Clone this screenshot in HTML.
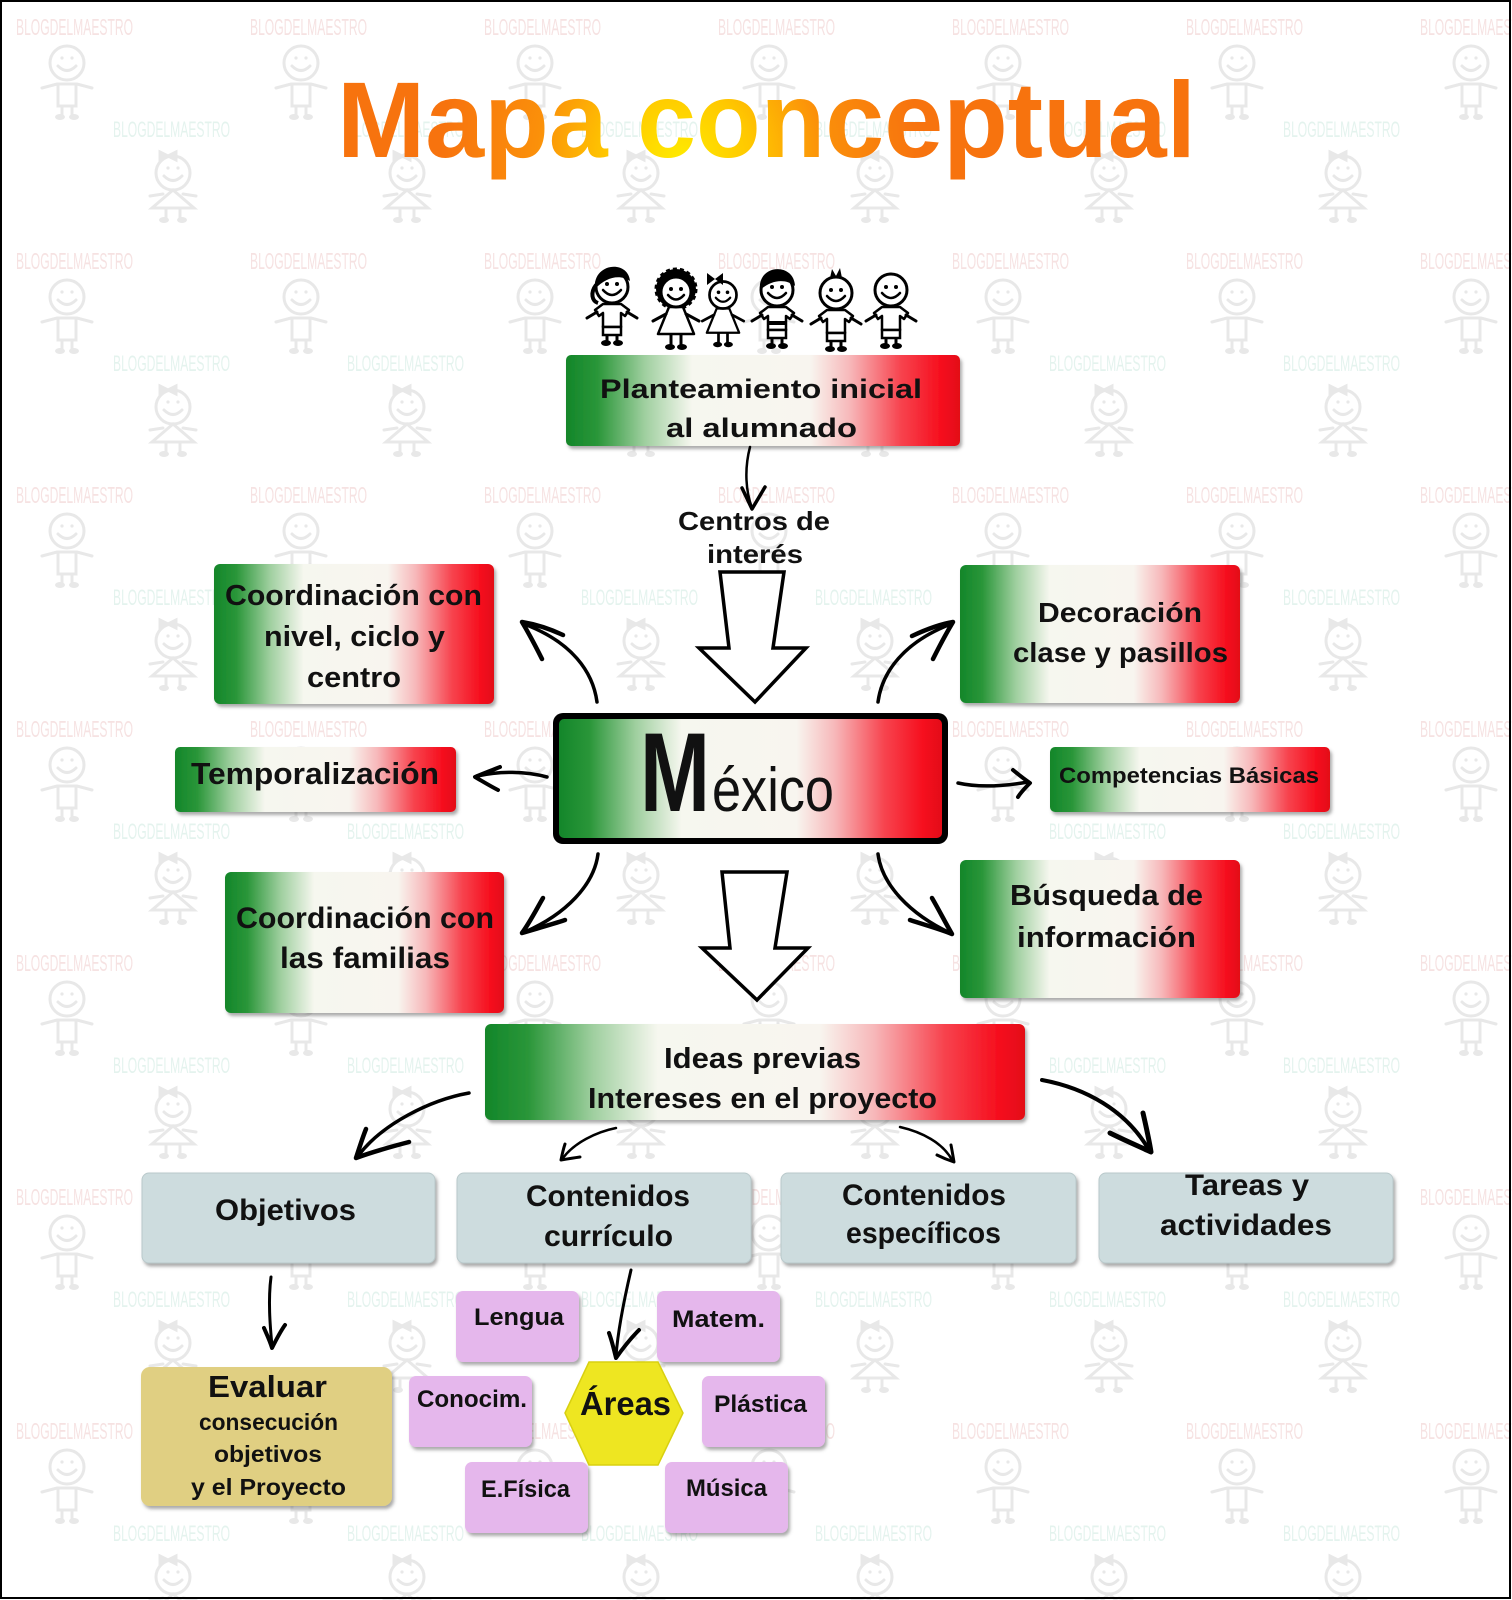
<!DOCTYPE html>
<html>
<head>
<meta charset="utf-8">
<style>
html,body{margin:0;padding:0;background:#fff;}
svg{display:block;}
.t{font-family:"Liberation Sans",sans-serif;font-weight:bold;fill:#111;}
.wm{font-family:"Liberation Sans",sans-serif;font-weight:normal;}
</style>
</head>
<body>
<svg width="1512" height="1600" viewBox="0 0 1512 1600" xmlns="http://www.w3.org/2000/svg">
<defs>
  <linearGradient id="mx" x1="0" x2="1" y1="0" y2="0">
    <stop offset="0" stop-color="#13862a"/>
    <stop offset="0.08" stop-color="#2a9639"/>
    <stop offset="0.2" stop-color="#9fcf9f"/>
    <stop offset="0.32" stop-color="#f6f7ef"/>
    <stop offset="0.62" stop-color="#f8f5ef"/>
    <stop offset="0.72" stop-color="#f7b8ba"/>
    <stop offset="0.85" stop-color="#f7434e"/>
    <stop offset="0.95" stop-color="#f60f1e"/>
    <stop offset="1" stop-color="#e30c18"/>
  </linearGradient>
  <radialGradient id="tg" gradientUnits="userSpaceOnUse" cx="680" cy="160" r="240">
    <stop offset="0" stop-color="#ffea00"/>
    <stop offset="0.3" stop-color="#ffc800"/>
    <stop offset="0.6" stop-color="#fb900a"/>
    <stop offset="1" stop-color="#f7730e"/>
  </radialGradient>
  <filter id="sh" x="-10%" y="-10%" width="130%" height="140%">
    <feDropShadow dx="2" dy="3" stdDeviation="1.5" flood-color="#555" flood-opacity="0.5"/>
  </filter>
  <pattern id="wmp" x="0" y="0" width="234" height="234" patternUnits="userSpaceOnUse">
    <text class="wm" x="16" y="35" font-size="23" textLength="117" lengthAdjust="spacingAndGlyphs" fill="#f6e2e2">BLOGDELMAESTRO</text>
    <text class="wm" x="113" y="137" font-size="22" textLength="117" lengthAdjust="spacingAndGlyphs" fill="#e4f3ee">BLOGDELMAESTRO</text>
    <g stroke="#e8e8e8" stroke-width="3" fill="none" stroke-linecap="round">
      <circle cx="67" cy="63" r="17"/>
      <path d="M58,66 Q67,75 76,66"/>
      <path d="M42,88 L57,84 L77,84 L92,88"/>
      <path d="M58,84 L58,106 L76,106 L76,84"/>
      <path d="M62,106 L62,115 M72,106 L72,115"/>
      <circle cx="173" cy="173" r="17"/>
      <path d="M164,176 Q173,185 182,176"/>
      <path d="M173,190 L152,208 L194,208 Z"/>
      <path d="M150,196 L163,194 M183,194 L196,196"/>
      <path d="M166,208 L166,218 M180,208 L180,218"/>
      <path d="M160,152 L168,156 L160,160 Z M176,152 L168,156 L176,160 Z" fill="#e8e8e8"/>
    </g>
    <g fill="#e8e8e8">
      <circle cx="62" cy="58" r="1.6"/><circle cx="72" cy="58" r="1.6"/>
      <circle cx="168" cy="168" r="1.6"/><circle cx="178" cy="168" r="1.6"/>
      <ellipse cx="60" cy="117" rx="5" ry="3"/><ellipse cx="74" cy="117" rx="5" ry="3"/>
      <ellipse cx="164" cy="220" rx="5" ry="3"/><ellipse cx="182" cy="220" rx="5" ry="3"/>
    </g>
  </pattern>

  <g id="boy">
    <path d="M-9,17 L-17,23 L-13,29 L-9,26 L-9,40 L9,40 L9,26 L13,29 L17,23 L9,17 Z" fill="#fff" stroke="#000" stroke-width="2.5" stroke-linejoin="round"/>
    <path d="M-15,25 L-25,31 M15,25 L25,31" stroke="#000" stroke-width="3" stroke-linecap="round"/>
    <rect x="-9" y="40" width="18" height="8" fill="#fff" stroke="#000" stroke-width="2.5"/>
    <path d="M-5,48 L-5,54 M5,48 L5,54" stroke="#000" stroke-width="3"/>
    <ellipse cx="-6" cy="56" rx="5" ry="3" fill="#000"/>
    <ellipse cx="6" cy="56" rx="5" ry="3" fill="#000"/>
    <circle r="16" fill="#fff" stroke="#000" stroke-width="3"/>
    <circle cx="-5" cy="-3" r="2" fill="#000"/><circle cx="5" cy="-3" r="2" fill="#000"/>
    <path d="M-9,3 Q0,13 9,3" fill="none" stroke="#000" stroke-width="2.5" stroke-linecap="round"/>
  </g>
  <g id="girl">
    <path d="M-7,15 L-18,42 L18,42 L7,15 Z" fill="#fff" stroke="#000" stroke-width="2.5" stroke-linejoin="round"/>
    <path d="M-10,22 L-23,29 M10,22 L23,29" stroke="#000" stroke-width="3" stroke-linecap="round"/>
    <path d="M-5,42 L-5,53 M5,42 L5,53" stroke="#000" stroke-width="3"/>
    <ellipse cx="-6" cy="55" rx="5" ry="3" fill="#000"/>
    <ellipse cx="6" cy="55" rx="5" ry="3" fill="#000"/>
    <circle r="15" fill="#fff" stroke="#000" stroke-width="3"/>
    <circle cx="-5" cy="-3" r="2" fill="#000"/><circle cx="5" cy="-3" r="2" fill="#000"/>
    <path d="M-8,3 Q0,12 8,3" fill="none" stroke="#000" stroke-width="2.5" stroke-linecap="round"/>
  </g>
</defs>

<rect x="0" y="0" width="1512" height="1600" fill="#fff"/>
<rect x="0" y="0" width="1512" height="1600" fill="url(#wmp)"/>

<text class="t" x="337" y="157" font-size="108" textLength="859" lengthAdjust="spacingAndGlyphs" style="fill:url(#tg)">Mapa conceptual</text>

<g>
  <g transform="translate(612,287)">
    <use href="#boy"/>
    <path d="M-17,2 C-20,-24 16,-28 18,-6 C8,-13 -6,-10 -17,2 Z" fill="#000"/>
    <path d="M-16,-2 C-22,6 -20,14 -14,16" fill="none" stroke="#000" stroke-width="4"/>
  </g>
  <g transform="translate(676,292)">
    <circle cx="0" cy="-3" r="20" fill="#000" stroke="#000" stroke-width="3" stroke-dasharray="4 3"/>
    <use href="#girl"/>
  </g>
  <g transform="translate(723,295)">
    <use href="#girl" transform="scale(0.9)"/>
    <path d="M-16,-22 L-8,-16 L-16,-10 Z M0,-22 L-8,-16 L0,-10 Z" fill="#000"/>
  </g>
  <g transform="translate(777,290)">
    <use href="#boy"/>
    <path d="M-17,0 C-20,-26 17,-28 18,-4 C8,-12 -6,-10 -17,0 Z" fill="#000"/>
    <path d="M-9,33 L9,33" stroke="#000" stroke-width="4"/>
  </g>
  <g transform="translate(836,293)">
    <use href="#boy"/>
    <path d="M-6,-15 L-4,-24 L0,-17 L4,-25 L6,-15 Z" fill="#000"/>
  </g>
  <g transform="translate(891,290)">
    <use href="#boy"/>
  </g>
</g>

<g filter="url(#sh)">
  <rect x="566" y="355" width="394" height="91" rx="5" fill="url(#mx)"/>
  <rect x="214" y="564" width="280" height="140" rx="6" fill="url(#mx)"/>
  <rect x="175" y="747" width="281" height="65" rx="5" fill="url(#mx)"/>
  <rect x="225" y="872" width="279" height="141" rx="6" fill="url(#mx)"/>
  <rect x="960" y="565" width="280" height="138" rx="6" fill="url(#mx)"/>
  <rect x="1050" y="747" width="280" height="65" rx="5" fill="url(#mx)"/>
  <rect x="960" y="860" width="280" height="138" rx="6" fill="url(#mx)"/>
  <rect x="485" y="1024" width="540" height="96" rx="6" fill="url(#mx)"/>
</g>

<g filter="url(#sh)" fill="#cddcde" stroke="#b9c9cb" stroke-width="1">
  <rect x="142" y="1173" width="293" height="90" rx="7"/>
  <rect x="457" y="1173" width="294" height="90" rx="7"/>
  <rect x="781" y="1173" width="295" height="90" rx="7"/>
  <rect x="1099" y="1173" width="294" height="90" rx="7"/>
</g>

<rect x="141" y="1367" width="251" height="139" rx="9" fill="#e0cf82" filter="url(#sh)"/>

<g filter="url(#sh)" fill="#e5b7ec">
  <rect x="456" y="1291" width="123" height="71" rx="7"/>
  <rect x="657" y="1291" width="123" height="71" rx="7"/>
  <rect x="409" y="1376" width="123" height="71" rx="7"/>
  <rect x="702" y="1376" width="123" height="71" rx="7"/>
  <rect x="465" y="1462" width="123" height="71" rx="7"/>
  <rect x="665" y="1462" width="123" height="71" rx="7"/>
</g>

<polygon points="565,1413 589,1362 658,1362 683,1413 658,1465 589,1465" fill="#eee621" stroke="#d8d010" stroke-width="1.5"/>

<rect x="553" y="713" width="395" height="131" rx="10" fill="#000"/>
<rect x="559" y="719" width="383" height="119" rx="5" fill="url(#mx)"/>

<g fill="#fff" stroke="#000" stroke-width="3.5" stroke-linejoin="miter">
  <polygon points="720,572 784,572 773,648 806,648 755,702 699,648 729,648"/>
  <polygon points="722,872 787,872 775,948 808,948 757,1000 702,948 730,948"/>
</g>

<g fill="none" stroke="#000" stroke-linecap="round" stroke-linejoin="round">
  <path d="M750,447 C744,470 746,492 752,508" stroke-width="2.5"/>
  <path d="M742,488 L752,509 L765,487" stroke-width="3.5"/>
  <path d="M597,702 C593,672 572,642 524,624" stroke-width="3.5"/>
  <path d="M563,635 C548,628 534,624 522,622 C528,632 535,645 542,659" stroke-width="4.5"/>
  <path d="M878,702 C882,672 904,642 951,624" stroke-width="3.5"/>
  <path d="M912,636 C927,629 941,624 953,622 C947,632 940,645 933,659" stroke-width="4.5"/>
  <path d="M547,777 C525,771 500,771 477,776" stroke-width="3.5"/>
  <path d="M500,767 C490,771 482,774 475,777 C482,781 490,786 498,790" stroke-width="4"/>
  <path d="M958,783 C980,788 1005,786 1028,782" stroke-width="3.5"/>
  <path d="M1013,770 C1019,775 1024,779 1030,783 C1025,788 1021,792 1018,797" stroke-width="4"/>
  <path d="M598,854 C594,885 566,914 525,932" stroke-width="3.5"/>
  <path d="M543,898 C536,910 530,922 522,933 C535,929 550,925 565,920" stroke-width="4.5"/>
  <path d="M878,854 C882,885 910,914 950,933" stroke-width="3.5"/>
  <path d="M932,898 C939,910 945,922 952,934 C940,929 925,925 910,920" stroke-width="4.5"/>
  <path d="M469,1093 C430,1100 382,1124 358,1156" stroke-width="3.5"/>
  <path d="M366,1129 C362,1139 359,1149 356,1158 C372,1152 390,1147 409,1142" stroke-width="4.5"/>
  <path d="M616,1128 C596,1132 574,1143 563,1158" stroke-width="2.5"/>
  <path d="M565,1144 C563,1150 562,1155 561,1160 C567,1159 573,1158 580,1157" stroke-width="3"/>
  <path d="M900,1127 C922,1132 943,1143 952,1160" stroke-width="2.5"/>
  <path d="M937,1155 C943,1158 948,1160 954,1162 C953,1156 952,1150 951,1145" stroke-width="3"/>
  <path d="M1042,1080 C1085,1088 1126,1110 1149,1150" stroke-width="4"/>
  <path d="M1110,1133 C1124,1140 1138,1146 1151,1152 C1149,1139 1146,1126 1143,1113" stroke-width="5"/>
  <path d="M271,1277 C268,1300 270,1325 272,1346" stroke-width="3"/>
  <path d="M264,1328 C267,1335 270,1341 272,1348 C276,1340 280,1332 285,1325" stroke-width="4"/>
  <path d="M631,1270 C624,1300 618,1330 616,1356" stroke-width="3"/>
  <path d="M609,1333 C612,1341 614,1350 616,1358 C623,1348 631,1338 639,1330" stroke-width="4"/>
</g>

<g class="t">
  <text x="600" y="398" font-size="27" textLength="322" lengthAdjust="spacingAndGlyphs">Planteamiento inicial</text>
  <text x="666" y="437" font-size="27" textLength="191" lengthAdjust="spacingAndGlyphs">al alumnado</text>

  <text x="678" y="530" font-size="26" textLength="152" lengthAdjust="spacingAndGlyphs">Centros de</text>
  <text x="707" y="563" font-size="26" textLength="96" lengthAdjust="spacingAndGlyphs">interés</text>

  <text x="225" y="605" font-size="29" textLength="257" lengthAdjust="spacingAndGlyphs">Coordinación con</text>
  <text x="264" y="646" font-size="29" textLength="181" lengthAdjust="spacingAndGlyphs">nivel, ciclo y</text>
  <text x="307" y="687" font-size="29" textLength="94" lengthAdjust="spacingAndGlyphs">centro</text>

  <text x="191" y="784" font-size="31" textLength="248" lengthAdjust="spacingAndGlyphs">Temporalización</text>

  <text x="236" y="928" font-size="30" textLength="258" lengthAdjust="spacingAndGlyphs">Coordinación con</text>
  <text x="280" y="968" font-size="30" textLength="170" lengthAdjust="spacingAndGlyphs">las familias</text>

  <text x="1038" y="622" font-size="28" textLength="164" lengthAdjust="spacingAndGlyphs">Decoración</text>
  <text x="1013" y="662" font-size="28" textLength="215" lengthAdjust="spacingAndGlyphs">clase y pasillos</text>

  <text x="1059" y="783" font-size="22" textLength="260" lengthAdjust="spacingAndGlyphs">Competencias Básicas</text>

  <text x="1010" y="905" font-size="29" textLength="193" lengthAdjust="spacingAndGlyphs">Búsqueda de</text>
  <text x="1017" y="947" font-size="29" textLength="179" lengthAdjust="spacingAndGlyphs">información</text>

  <text x="664" y="1068" font-size="29" textLength="197" lengthAdjust="spacingAndGlyphs">Ideas previas</text>
  <text x="588" y="1108" font-size="29" textLength="349" lengthAdjust="spacingAndGlyphs">Intereses en el proyecto</text>

  <text x="215" y="1220" font-size="30" textLength="141" lengthAdjust="spacingAndGlyphs">Objetivos</text>
  <text x="526" y="1206" font-size="30" textLength="164" lengthAdjust="spacingAndGlyphs">Contenidos</text>
  <text x="544" y="1246" font-size="30" textLength="129" lengthAdjust="spacingAndGlyphs">currículo</text>
  <text x="842" y="1205" font-size="30" textLength="164" lengthAdjust="spacingAndGlyphs">Contenidos</text>
  <text x="846" y="1243" font-size="30" textLength="155" lengthAdjust="spacingAndGlyphs">específicos</text>
  <text x="1185" y="1195" font-size="30" textLength="124" lengthAdjust="spacingAndGlyphs">Tareas y</text>
  <text x="1160" y="1235" font-size="30" textLength="172" lengthAdjust="spacingAndGlyphs">actividades</text>

  <text x="208" y="1397" font-size="31" textLength="119" lengthAdjust="spacingAndGlyphs">Evaluar</text>
  <text x="199" y="1430" font-size="23" textLength="139" lengthAdjust="spacingAndGlyphs">consecución</text>
  <text x="214" y="1462" font-size="23" textLength="108" lengthAdjust="spacingAndGlyphs">objetivos</text>
  <text x="191" y="1495" font-size="23" textLength="155" lengthAdjust="spacingAndGlyphs">y el Proyecto</text>

  <text x="474" y="1325" font-size="24" textLength="90" lengthAdjust="spacingAndGlyphs">Lengua</text>
  <text x="672" y="1327" font-size="24" textLength="93" lengthAdjust="spacingAndGlyphs">Matem.</text>
  <text x="417" y="1407" font-size="24" textLength="110" lengthAdjust="spacingAndGlyphs">Conocim.</text>
  <text x="714" y="1412" font-size="24" textLength="93" lengthAdjust="spacingAndGlyphs">Plástica</text>
  <text x="481" y="1497" font-size="24" textLength="89" lengthAdjust="spacingAndGlyphs">E.Física</text>
  <text x="686" y="1496" font-size="24" textLength="81" lengthAdjust="spacingAndGlyphs">Música</text>

  <text x="580" y="1415" font-size="33" textLength="91" lengthAdjust="spacingAndGlyphs">Áreas</text>

  <text x="640" y="811" font-size="112" textLength="70" lengthAdjust="spacingAndGlyphs">M</text>
</g>
<text x="712" y="811" font-family="Liberation Sans, sans-serif" font-size="62" fill="#111" textLength="122" lengthAdjust="spacingAndGlyphs">éxico</text>

<rect x="1" y="1" width="1509" height="1597" fill="none" stroke="#000" stroke-width="2"/>
</svg>
</body>
</html>
